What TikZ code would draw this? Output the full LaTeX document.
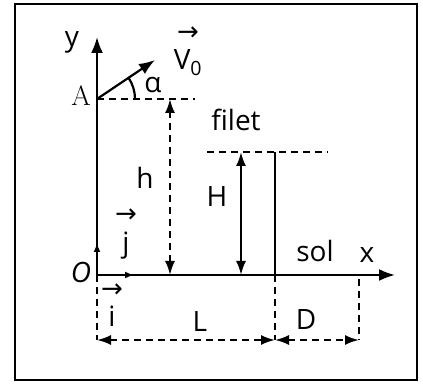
\documentclass[tikz,border=0pt]{standalone}
\usepackage{fontspec}
\newfontfamily\labfont{Open Sans}
\newfontfamily\arrowfont{DejaVu Sans}
\usetikzlibrary{arrows.meta}
\newcommand{\vecl}[1]{\shortstack{{\arrowfont\fontsize{26}{26}\selectfont →}\\[6pt]#1}}

\begin{document}
\begin{tikzpicture}[x=1pt, y=1pt, line width=2.2pt,
  every node/.style={font=\labfont\fontsize{28}{30}\selectfont, inner sep=0pt},
  tip/.style={-{Latex[length=16pt,width=12pt]}},
  both/.style={{Latex[length=14pt,width=10pt]}-{Latex[length=14pt,width=10pt]}},
  small/.style={-{Latex[length=9pt,width=7pt]}},
  dim/.style={dash pattern=on 7pt off 5pt, line width=2pt}]
\useasboundingbox (0,0) rectangle (423,383);
\draw[line width=1.8pt] (15,3) rectangle (417,379);

% points
\coordinate (O) at (97,108);
\coordinate (A) at (97,284);
\coordinate (ytop) at (97,346);
\coordinate (xend) at (395,108);
\coordinate (V) at (155,323);
\coordinate (Aend) at (195,284);
\coordinate (ht) at (170,284);
\coordinate (hb) at (170,108);
\coordinate (Fb) at (275,108);
\coordinate (Ft) at (275,231);
\coordinate (Hl) at (207,231);
\coordinate (Hr) at (328,231);
\coordinate (Ht) at (241,231);
\coordinate (Hb) at (241,108);
\coordinate (jt) at (97,140);
\coordinate (it) at (134,108);
\coordinate (Ob) at (97,43);
\coordinate (Fd) at (275,43);
\coordinate (Ds) at (359,104);
\coordinate (Dd) at (359,43);

% labels
\node (ylab) at (72,341) {y};
\node (v0) at (188,332) {\vecl{V\textsubscript{0}}};
\node (alph) at (153,298) {α};
\node (Alab) at (81,287) {\rmfamily A};
\node (filet) at (236,263) {filet};
\node (hlab) at (145,205) {h};
\node (Hlab) at (217,186) {H};
\node (jlab) at (126,149) {\vecl{j}};
\node (sol) at (315,132) {sol};
\node (xlab) at (367,128) {x};
\node (Olab) at (81,111) {\itshape O};
\node (ilab) at (112,78) {\vecl{i}};
\node (Llab) at (200,61) {L};
\node (Dlab) at (306,63) {D};

% axes
\draw[tip] (O) -- (ytop);
\draw[tip] (O) -- (xend);
\draw[small] (O) -- (jt);
\draw[small] (O) -- (it);

% launch
\draw[tip] (A) -- (V);
\draw[dim] (A) -- (Aend);
\draw (A) ++(38,0) arc[start angle=0, end angle=34, radius=38];

% heights
\draw[dim, both] (hb) -- (ht);
\draw[dim] (Hl) -- (Hr);
\draw[both] (Hb) -- (Ht);
\draw (Fb) -- (Ft);

% distances
\draw[dim] (O) -- (Ob);
\draw[dim] (Fb) -- (Fd);
\draw[dim] (Ds) -- (Dd);
\draw[dim, both] (Ob) -- (Fd);
\draw[dim, both] (Fd) -- (Dd);
\end{tikzpicture}
\end{document}
